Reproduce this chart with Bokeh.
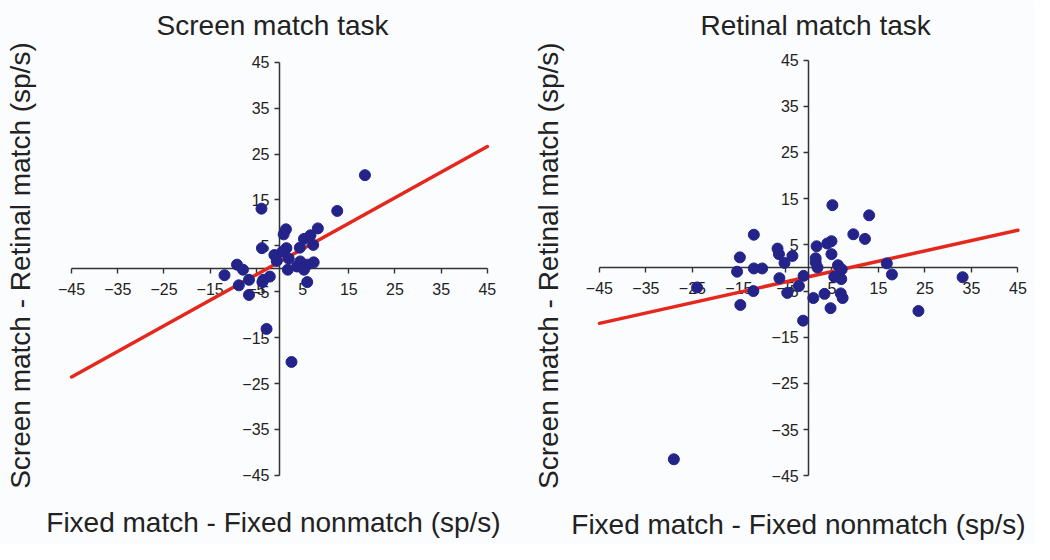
import numpy as np
from bokeh.plotting import figure
from bokeh.models import LinearAxis, FixedTicker, Label, Range1d
from bokeh.layouts import row
from bokeh.embed import file_html
from bokeh.resources import INLINE

# ---------------- data ----------------
tick_values = [-45, -35, -25, -15, -5, 5, 15, 25, 35, 45]
tick_labels = ["\u221245", "\u221235", "\u221225", "\u221215", "\u22125",
               "5", "15", "25", "35", "45"]

screen_x = [18.5, 12.5, -3.9, 8.3, 1.4, 0.9, 6.7, 5.3, 7.3, -3.8, 4.4, 1.5,
            -1.1, 0.6, -0.6, 2.0, 4.5, 7.4, 6.0, 1.8, 3.8, 5.3, -9.2, -7.9,
            -11.9, -6.6, -8.8, -6.6, -3.5, -2.1, 6.0, -2.8, 2.6, -3.7]
screen_y = [20.4, 12.6, 13.1, 8.8, 8.6, 7.5, 7.3, 6.5, 5.2, 4.5, 4.6, 4.5,
            3.0, 3.7, 1.7, 2.2, 1.6, 1.4, 0.9, -0.2, 0.5, -0.2, 0.9, -0.2,
            -1.4, -2.4, -3.6, -5.7, -2.4, -1.7, -2.9, -13.1, -20.3, -2.9]
screen_fit = (0.558, 1.53)   # slope, intercept

retinal_x = [5.1, 13.0, 9.6, 12.1, 4.9, 4.0, 1.7, 4.9, -3.5, -5.2, 1.5, 1.5,
             1.9, 6.3, 7.1, 16.8, 17.9, 5.5, 7.0, -1.1, -2.1, -4.6, 1.0, 3.4,
             6.9, 7.3, 4.7, -1.2, 23.6, 33.1, -6.3, -11.8, -14.8, -15.4, -11.8,
             -10.0, -11.9, -14.7, -24.0, -6.7, -6.4, -29.0]
retinal_y = [13.6, 11.4, 7.3, 6.3, 5.8, 5.3, 4.7, 3.0, 2.6, 1.1, 2.1, 1.2,
             0.1, 0.6, -0.3, 1.0, -1.4, -1.9, -2.4, -1.7, -3.9, -5.4, -6.5, -5.6,
             -5.5, -6.5, -8.7, -11.4, -9.3, -2.0, -2.2, 7.2, 2.3, -0.8, -0.1,
             -0.1, -5.0, -8.0, -4.2, 4.2, 3.0, -41.4]
retinal_fit = (0.224, -1.9)

fit_extent = [-45, 45]

titles = ["Screen match task", "Retinal match task"]
x_label = "Fixed match - Fixed nonmatch (sp/s)"
y_label = "Screen match - Retinal match (sp/s)"

# ---------------- style ----------------
BG = "#FBFCFD"
DOT = "#23238A"
RED = "#E5281D"
AX = "#333333"
TXT = "#222222"
FONT = "Liberation Sans"


def make_panel(title, xs, ys, fit, xr, yr, title_xy, xlab_xy, ylab_xy):
    p = figure(width=517, height=544, x_range=Range1d(*xr), y_range=Range1d(*yr),
               output_backend="svg", toolbar_location=None, min_border=0,
               x_axis_type=None, y_axis_type=None)
    p.outline_line_color = None
    p.background_fill_color = BG
    p.border_fill_color = BG

    overrides = {v: s for v, s in zip(tick_values, tick_labels)}
    for side in ("below", "left"):
        ax = LinearAxis(fixed_location=0, bounds=(tick_values[0], tick_values[-1]),
                        ticker=FixedTicker(ticks=tick_values),
                        major_label_overrides=overrides)
        ax.axis_line_color = AX
        ax.axis_line_width = 1.5
        ax.major_tick_line_color = AX
        ax.major_tick_line_width = 1.4
        ax.major_tick_in = 0
        ax.major_tick_out = 5
        ax.minor_tick_line_color = None
        ax.major_label_text_font = FONT
        ax.major_label_text_font_size = "16px"
        ax.major_label_text_color = TXT
        ax.major_label_standoff = 9 if side == "below" else 5
        ax.level = "underlay"
        p.add_layout(ax, side)

    fx = np.array(fit_extent, dtype=float)
    fy = fit[0] * fx + fit[1]
    p.line(fx, fy, line_width=3.5, line_color=RED, line_cap="round")
    p.scatter(xs, ys, size=11, fill_color=DOT, line_color=DOT)

    p.add_layout(Label(x=title_xy[0], y=title_xy[1], text=title, text_align="center",
                       text_baseline="middle", text_font=FONT, text_font_size="28px",
                       text_color=TXT))
    p.add_layout(Label(x=xlab_xy[0], y=xlab_xy[1], text=x_label, text_align="center",
                       text_baseline="middle", text_font=FONT, text_font_size="28px",
                       text_color=TXT))
    p.add_layout(Label(x=ylab_xy[0], y=ylab_xy[1], text=y_label, text_align="center",
                       text_baseline="middle", text_font=FONT, text_font_size="28px",
                       text_color=TXT, angle=90, angle_units="deg"))
    return p


p1 = make_panel(titles[0], screen_x, screen_y, screen_fit,
                (-60.39, 51.52), (-60.07, 58.45),
                (-1.5, 53.0), (-1.3, -55.3), (-56.1, 0.7))
p2 = make_panel(titles[1], retinal_x, retinal_y, retinal_fit,
                (-62.62, 48.56), (-59.85, 57.90),
                (1.5, 52.5), (-2.2, -55.5), (-56.0, 0.5))

layout = row(p1, p2)
open("out.html", "w").write(file_html(layout, INLINE))
